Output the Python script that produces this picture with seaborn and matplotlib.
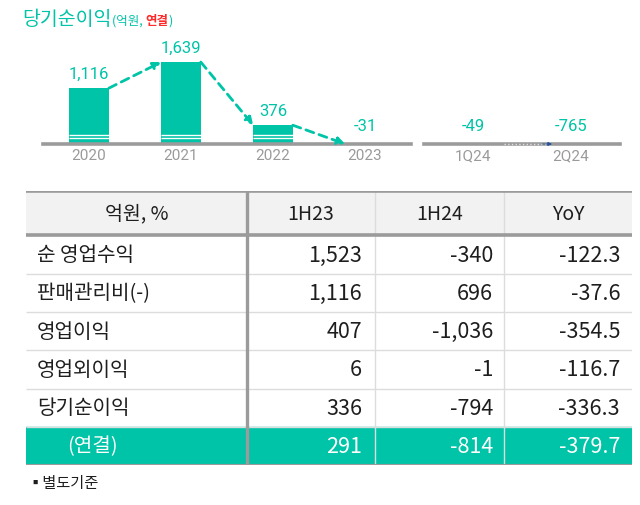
import matplotlib
matplotlib.use("Agg")
import matplotlib.pyplot as plt
import seaborn as sns
import pandas as pd

# ---------------- data ----------------
years = ["2020", "2021", "2022", "2023"]
annual = [1116, 1639, 376, -31]
quarters = ["1Q24", "2Q24"]
quarterly = [-49, -765]

col_headers = ["억원, %", "1H23", "1H24", "YoY"]
row_labels = ["순 영업수익", "판매관리비(-)", "영업이익", "영업외이익", "당기순이익", "(연결)"]
h123 = [1523, 1116, 407, 6, 336, 291]
h124 = [-340, 696, -1036, -1, -794, -814]
yoy = [-122.3, -37.6, -354.5, -116.7, -336.3, -379.7]

# ---------------- style ----------------
sns.set_style("white")
plt.rcParams["font.family"] = ["Noto Sans CJK KR", "DejaVu Sans"]

TEAL = "#00c4a7"
GRAY = "#9b9b9b"
LIGHT = "#dcdcdc"
NUM_FONT = ["Noto Sans CJK KR", "DejaVu Sans"]
BAR_FONT = ["Roboto", "Noto Sans CJK KR"]

W, H = 640, 506
fig = plt.figure(figsize=(W / 100, H / 100), dpi=100)


def px_axes(l, t, r, b):
    return fig.add_axes([l / W, 1 - b / H, (r - l) / W, (b - t) / H])


BW = 0.43


def bar_panel(ax, cats, vals):
    df = pd.DataFrame({"period": cats, "value": vals})
    sns.barplot(data=df, x="period", y="value", color=TEAL, saturation=1,
                width=BW, ax=ax, edgecolor="none")
    ax.set_ylim(0, 2000)
    ax.set_xlim(-0.5, len(cats) - 0.5)
    for s in ["top", "left", "right"]:
        ax.spines[s].set_visible(False)
    ax.spines["bottom"].set_color(GRAY)
    ax.spines["bottom"].set_linewidth(2.6)
    ax.spines["bottom"].set_zorder(6)
    ax.set_xlabel("")
    ax.set_ylabel("")
    ax.set_yticks([])
    ax.tick_params(axis="x", length=0, pad=3, colors="#9a9a9a", labelsize=11)
    for lab in ax.get_xticklabels():
        lab.set_fontfamily(BAR_FONT)
    # white stripes near the bar bottoms
    for i, v in enumerate(vals):
        if v > 0:
            ax.hlines([120, 180], i - BW / 2, i + BW / 2, colors="white",
                      lw=1.0, zorder=5)
    # value labels
    for i, v in enumerate(vals):
        off = 10.5 if v > 0 else 13
        ax.annotate(f"{v:,}", (i, max(v, 0)), xytext=(0, off),
                    textcoords="offset points", ha="center", va="center",
                    color=TEAL, fontsize=12, family=BAR_FONT,
                    annotation_clip=False)


ax1 = px_axes(43, 45, 411, 145)
bar_panel(ax1, years, annual)
ax2 = px_axes(424, 45, 620, 145)
bar_panel(ax2, quarters, quarterly)

# dashed trend arrows between annual bars
for i in range(len(annual) - 1):
    start = (i + BW / 2, max(annual[i], 0))
    end = (i + 1 - BW / 2, max(annual[i + 1], 0))
    ax1.annotate("", xy=end, xytext=start,
                 arrowprops=dict(arrowstyle="-|>", color=TEAL, lw=2,
                                 linestyle=(0, (3, 2)), mutation_scale=11,
                                 shrinkA=0, shrinkB=0),
                 annotation_clip=False, zorder=7)

# faint quarterly arrow on the baseline
ax2.plot([BW / 2 + 0.1, 1 - BW / 2], [0, 0], color="#e0e0e0", ls=":", lw=1.0,
         clip_on=False, zorder=7)
ax2.annotate("", xy=(1 - BW / 2 + 0.02, 0), xytext=(1 - BW / 2 - 0.08, 0),
             arrowprops=dict(arrowstyle="-|>", color="#1f4e9a", lw=0.5,
                             mutation_scale=6, shrinkA=0, shrinkB=0),
             annotation_clip=False, zorder=8)

# ---------------- title ----------------
t1 = fig.text(22 / W, 1 - 25 / H, "당기순이익", color=TEAL, fontsize=14,
              va="baseline", ha="left")
fig.canvas.draw()
r = fig.canvas.get_renderer()
x = t1.get_window_extent(r).x1 + 1
parts = [("(억원, ", TEAL, "normal"), ("연결", "#ff2a2a", "bold"), (")", TEAL, "normal")]
for txt, col, wt in parts:
    t = fig.text(x / W, 1 - 25 / H, txt, color=col, fontsize=9, fontweight=wt,
                 va="baseline", ha="left")
    fig.canvas.draw()
    x = t.get_window_extent(r).x1

# ---------------- table ----------------
axt = px_axes(26, 192, 632, 466)
axt.set_xlim(0, 606)
axt.set_ylim(274, 0)
axt.axis("off")

col_edges = [0, 221, 349, 478, 606]
row_edges = [0, 44, 83, 121, 159, 198, 236, 274]

axt.axhspan(0, 44, color="#f2f2f2", zorder=0)
axt.axhspan(236, 274, color=TEAL, zorder=0)

for y in row_edges[2:6]:
    axt.hlines(y, 0, 606, colors=LIGHT, lw=1, zorder=1)
axt.hlines(236, 0, 606, colors=LIGHT, lw=1, zorder=1)
for xe in col_edges[2:4]:
    axt.vlines(xe, -2, 276, colors=LIGHT, lw=1, zorder=1)
axt.vlines(221, -2, 278, colors=GRAY, lw=2.4, zorder=3)
axt.hlines(0, 0, 606, colors=GRAY, lw=2.6, zorder=2)
axt.hlines(44, 0, 606, colors=GRAY, lw=2.6, zorder=2)
axt.hlines(274.5, 0, 606, colors=GRAY, lw=3, zorder=2)

# header
for j, hdr in enumerate(col_headers):
    cx = (col_edges[j] + col_edges[j + 1]) / 2
    axt.text(cx, 22, hdr, ha="center", va="center", fontsize=14,
             color="#1e1e1e", family=NUM_FONT)

# body
right_x = [336, 467, 594]
for i, lab in enumerate(row_labels):
    cy = (row_edges[i + 1] + row_edges[i + 2]) / 2
    last = i == len(row_labels) - 1
    col = "white" if last else "#1e1e1e"
    axt.text(41 if last else 11, cy, lab, ha="left", va="center",
             fontsize=14.5, color=col)
    vals = [f"{h123[i]:,}", f"{h124[i]:,}", f"{yoy[i]:.1f}"]
    for k, s in enumerate(vals):
        axt.text(right_x[k], cy, s, ha="right", va="center", fontsize=15.5,
                 color=col, family=NUM_FONT)

# footnote
fig.text(27 / W, 1 - 484 / H, "▪별도기준", fontsize=11, color="#1e1e1e",
         va="center", ha="left", family=["Noto Sans CJK KR", "DejaVu Sans"])

fig.savefig("out.png", dpi=100)
